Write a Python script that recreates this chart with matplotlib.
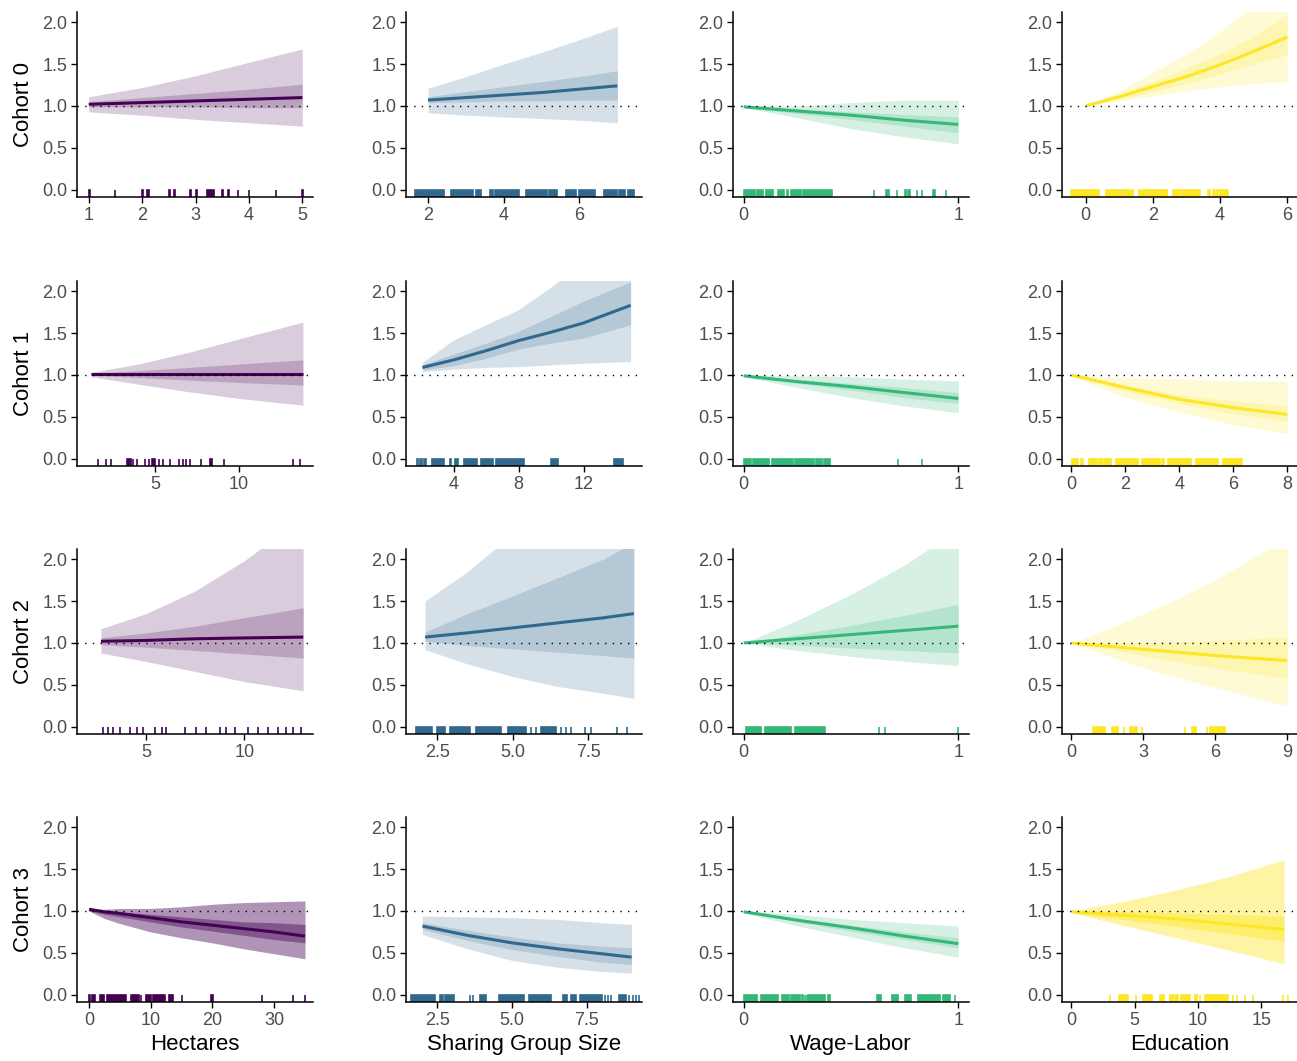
import matplotlib
matplotlib.use("Agg")
import matplotlib.pyplot as plt

plt.rcParams['font.family'] = ['Liberation Sans', 'DejaVu Sans']

cohorts = ["Cohort 0", "Cohort 1", "Cohort 2", "Cohort 3"]
predictors = ["Hectares", "Sharing Group Size", "Wage-Labor", "Education"]
colors = ["#440154", "#31688E", "#35B779", "#FDE725"]

# ---- Hectares ----
x_h0 = [1, 2, 3, 4, 5]
med_h0 = [1.02, 1.04, 1.06, 1.08, 1.10]
lo95_h0 = [0.93, 0.89, 0.84, 0.80, 0.76]
hi95_h0 = [1.11, 1.22, 1.36, 1.52, 1.68]
lo50_h0 = [0.99, 0.99, 0.99, 0.98, 0.98]
hi50_h0 = [1.05, 1.10, 1.15, 1.20, 1.26]
rug_h0 = [(1.0, 1.02), (1.5, 1.5), (2.0, 2.02), (2.1, 2.12), (2.5, 2.52), (2.6, 2.62),
          (2.9, 2.92), (3.0, 3.02), (3.22, 3.35), (3.5, 3.52), (3.6, 3.62), (3.8, 3.8),
          (4.0, 4.0), (4.5, 4.5), (5.0, 5.02)]

x_h1 = [1.2, 4, 7, 10, 13.8]
med_h1 = [1.01, 1.01, 1.01, 1.01, 1.01]
lo95_h1 = [0.98, 0.89, 0.80, 0.72, 0.64]
hi95_h1 = [1.03, 1.13, 1.27, 1.43, 1.63]
lo50_h1 = [1.00, 0.97, 0.94, 0.91, 0.88]
hi50_h1 = [1.02, 1.05, 1.09, 1.13, 1.18]
rug_h1 = [(1.6, 1.6), (2.1, 2.1), (2.4, 2.4), (3.33, 3.55), (3.7, 3.7), (3.95, 3.95),
          (4.4, 4.4), (4.65, 4.65), (4.8, 5.0), (5.25, 5.25), (5.45, 5.45), (5.9, 5.9),
          (6.4, 6.4), (6.65, 6.65), (6.85, 6.85), (7.1, 7.1), (7.75, 7.75), (8.25, 8.4),
          (9.1, 9.1), (13.2, 13.2), (13.6, 13.6)]

x_h2 = [2.7, 5, 7.5, 10, 13]
med_h2 = [1.02, 1.03, 1.05, 1.06, 1.07]
lo95_h2 = [0.88, 0.78, 0.66, 0.54, 0.43]
hi95_h2 = [1.17, 1.35, 1.62, 1.98, 2.5]
lo50_h2 = [0.98, 0.95, 0.91, 0.87, 0.82]
hi50_h2 = [1.06, 1.12, 1.20, 1.30, 1.42]
rug_h2 = [(2.8, 2.8), (3.06, 3.06), (3.3, 3.3), (3.67, 3.67), (4.18, 4.18), (4.54, 4.54),
          (4.85, 4.85), (5.46, 5.46), (5.82, 5.82), (6.02, 6.02), (6.99, 6.99), (7.55, 7.55),
          (8.06, 8.06), (8.78, 8.78), (9.08, 9.08), (9.54, 9.54), (10.2, 10.2), (10.7, 10.7),
          (11.2, 11.2), (11.7, 11.7), (12.1, 12.1), (12.5, 12.5), (12.9, 12.9)]

x_h3 = [0, 2.5, 5, 10, 15, 20, 25, 30, 35]
med_h3 = [1.02, 0.99, 0.97, 0.92, 0.87, 0.83, 0.79, 0.75, 0.70]
lo95_h3 = [1.00, 0.91, 0.85, 0.75, 0.68, 0.62, 0.55, 0.49, 0.43]
hi95_h3 = [1.02, 1.02, 1.03, 1.03, 1.05, 1.08, 1.10, 1.11, 1.12]
lo50_h3 = [1.00, 0.96, 0.93, 0.87, 0.81, 0.76, 0.71, 0.66, 0.62]
hi50_h3 = [1.02, 1.00, 0.99, 0.96, 0.93, 0.90, 0.87, 0.86, 0.84]
rug_h3 = [(0.0, 0.2), (0.5, 0.9), (1.8, 2.5), (2.9, 3.7), (3.9, 6.05), (6.75, 8.1),
          (8.5, 8.5), (9.3, 10.1), (10.4, 12.3), (13.0, 13.6), (15.0, 15.0), (19.8, 20.1),
          (28.0, 28.0), (33.0, 33.0), (35.0, 35.0)]

# ---- Sharing group size ----
x_s0 = [2, 3, 4, 5, 6, 7]
med_s0 = [1.07, 1.10, 1.13, 1.16, 1.20, 1.24]
lo95_s0 = [0.92, 0.89, 0.87, 0.85, 0.83, 0.80]
hi95_s0 = [1.21, 1.35, 1.50, 1.64, 1.79, 1.95]
lo50_s0 = [1.04, 1.05, 1.06, 1.06, 1.07, 1.07]
hi50_s0 = [1.11, 1.17, 1.23, 1.29, 1.35, 1.42]
rug_s0 = [(1.65, 2.42), (2.62, 3.2), (3.27, 3.4), (3.65, 3.72), (3.78, 4.4), (4.6, 5.15),
          (5.2, 5.4), (5.65, 5.9), (6.0, 6.4), (6.65, 7.0), (7.05, 7.2), (7.27, 7.45)]

x_s1 = [2.06, 4, 6, 8, 10, 12, 14.9]
med_s1 = [1.09, 1.18, 1.29, 1.41, 1.51, 1.62, 1.83]
lo95_s1 = [1.04, 1.07, 1.09, 1.10, 1.12, 1.14, 1.16]
hi95_s1 = [1.15, 1.42, 1.60, 1.78, 2.05, 2.35, 2.8]
lo50_s1 = [1.06, 1.11, 1.20, 1.31, 1.38, 1.44, 1.60]
hi50_s1 = [1.12, 1.25, 1.38, 1.52, 1.70, 1.88, 2.11]
rug_s1 = [(1.7, 1.82), (1.9, 2.05), (2.15, 2.3), (2.68, 3.4), (3.75, 3.82), (4.05, 4.25),
          (4.6, 5.4), (5.65, 6.4), (6.6, 7.0), (7.1, 7.45), (7.55, 8.35), (9.98, 10.15),
          (10.25, 10.4), (13.9, 14.1), (14.2, 14.4)]

x_s2 = [2.1, 3.5, 5, 6.5, 8, 9]
med_s2 = [1.07, 1.12, 1.18, 1.24, 1.30, 1.35]
lo95_s2 = [0.92, 0.75, 0.60, 0.48, 0.40, 0.34]
hi95_s2 = [1.50, 1.85, 2.3, 2.8, 3.3, 3.6]
lo50_s2 = [1.02, 0.97, 0.93, 0.89, 0.85, 0.82]
hi50_s2 = [1.13, 1.35, 1.56, 1.78, 2.0, 2.2]
rug_s2 = [(1.8, 2.33), (2.5, 2.75), (2.93, 3.6), (3.77, 4.6), (4.83, 5.43), (5.6, 5.6),
          (5.77, 5.77), (5.93, 6.43), (6.6, 6.6), (6.77, 6.77), (6.93, 6.93), (7.37, 7.37),
          (7.6, 7.6), (8.43, 8.43), (8.77, 8.77)]

x_s3 = [2, 3.5, 5, 6.5, 8, 9]
med_s3 = [0.82, 0.71, 0.62, 0.55, 0.49, 0.45]
lo95_s3 = [0.72, 0.55, 0.41, 0.33, 0.28, 0.26]
hi95_s3 = [0.94, 0.93, 0.92, 0.90, 0.86, 0.84]
lo50_s3 = [0.78, 0.65, 0.54, 0.46, 0.39, 0.36]
hi50_s3 = [0.86, 0.77, 0.69, 0.62, 0.58, 0.56]
rug_s3 = [(1.62, 2.41), (2.58, 2.7), (2.76, 3.05), (3.58, 3.58), (3.7, 3.7), (3.94, 4.12),
          (4.56, 5.39), (5.57, 6.3), (6.69, 6.83), (6.97, 7.15), (7.26, 8.0), (8.1, 8.1),
          (8.21, 8.21), (8.31, 8.31), (8.57, 8.83), (8.93, 8.93), (9.04, 9.04), (9.16, 9.16),
          (9.25, 9.25)]

# ---- Wage labor ----
x_w0 = [0, 0.25, 0.5, 0.75, 1]
med_w0 = [0.99, 0.94, 0.89, 0.83, 0.78]
lo95_w0 = [0.98, 0.86, 0.73, 0.63, 0.55]
hi95_w0 = [1.00, 1.00, 1.04, 1.07, 1.07]
lo50_w0 = [0.98, 0.91, 0.84, 0.76, 0.68]
hi50_w0 = [1.00, 0.97, 0.93, 0.90, 0.87]
rug_w0 = [(0.0, 0.054), (0.062, 0.09), (0.105, 0.135), (0.16, 0.19), (0.2, 0.205),
          (0.22, 0.265), (0.275, 0.41), (0.607, 0.607), (0.664, 0.676), (0.713, 0.713),
          (0.75, 0.758), (0.768, 0.775), (0.806, 0.806), (0.83, 0.83), (0.88, 0.89),
          (0.944, 0.944)]

x_w1 = [0, 0.25, 0.5, 0.75, 1]
med_w1 = [0.99, 0.92, 0.86, 0.79, 0.72]
lo95_w1 = [0.98, 0.85, 0.73, 0.63, 0.55]
hi95_w1 = [1.00, 0.99, 0.98, 0.95, 0.93]
lo50_w1 = [0.98, 0.90, 0.82, 0.73, 0.66]
hi50_w1 = [0.99, 0.95, 0.90, 0.85, 0.79]
rug_w1 = [(0.0, 0.02), (0.025, 0.035), (0.042, 0.12), (0.13, 0.228), (0.237, 0.275),
          (0.282, 0.328), (0.337, 0.366), (0.374, 0.401), (0.72, 0.72), (0.831, 0.831)]

x_w2 = [0, 0.25, 0.5, 0.75, 1]
med_w2 = [1.0, 1.05, 1.10, 1.15, 1.20]
lo95_w2 = [1.0, 0.91, 0.84, 0.78, 0.73]
hi95_w2 = [1.0, 1.27, 1.58, 1.93, 2.35]
lo50_w2 = [1.0, 0.97, 0.94, 0.91, 0.88]
hi50_w2 = [1.0, 1.10, 1.21, 1.33, 1.46]
rug_w2 = [(0.01, 0.08), (0.1, 0.22), (0.24, 0.38), (0.63, 0.63), (0.66, 0.66), (0.998, 0.998)]

x_w3 = [0, 0.25, 0.5, 0.75, 1]
med_w3 = [0.99, 0.89, 0.80, 0.70, 0.61]
lo95_w3 = [0.98, 0.82, 0.69, 0.56, 0.45]
hi95_w3 = [1.0, 0.96, 0.90, 0.86, 0.82]
lo50_w3 = [0.99, 0.87, 0.76, 0.66, 0.56]
hi50_w3 = [1.0, 0.91, 0.83, 0.75, 0.68]
rug_w3 = [(0.0, 0.06), (0.08, 0.16), (0.18, 0.21), (0.22, 0.26), (0.27, 0.278), (0.285, 0.285),
          (0.293, 0.293), (0.3, 0.38), (0.394, 0.402), (0.62, 0.64), (0.69, 0.72), (0.75, 0.78),
          (0.81, 0.915), (0.93, 0.96), (0.985, 0.985)]

# ---- Education ----
x_e0 = [0, 1, 2, 3, 4, 5, 6]
med_e0 = [1.0, 1.11, 1.23, 1.35, 1.49, 1.65, 1.82]
lo95_e0 = [1.0, 1.06, 1.12, 1.18, 1.23, 1.27, 1.29]
hi95_e0 = [1.0, 1.18, 1.40, 1.62, 1.88, 2.2, 2.6]
lo50_e0 = [1.0, 1.08, 1.17, 1.27, 1.38, 1.50, 1.61]
hi50_e0 = [1.0, 1.14, 1.29, 1.45, 1.62, 1.83, 2.08]
rug_e0 = [(-0.43, 0.4), (0.6, 0.9), (0.95, 1.0), (1.05, 1.4), (1.6, 2.43), (2.6, 2.8),
          (2.87, 3.4), (3.65, 3.7), (3.78, 3.82), (3.88, 3.93), (4.0, 4.25)]

x_e1 = [0, 2, 4, 6, 8]
med_e1 = [1.0, 0.85, 0.71, 0.61, 0.53]
lo95_e1 = [0.99, 0.73, 0.56, 0.41, 0.30]
hi95_e1 = [1.0, 0.97, 0.95, 0.93, 0.92]
lo50_e1 = [0.99, 0.81, 0.66, 0.54, 0.45]
hi50_e1 = [1.0, 0.88, 0.76, 0.69, 0.63]
rug_e1 = [(0.02, 0.23), (0.36, 0.42), (0.64, 0.95), (1.02, 1.13), (1.2, 1.46), (1.66, 2.48),
          (2.6, 3.3), (3.34, 3.42), (3.58, 4.42), (4.6, 5.42), (5.63, 6.34)]

x_e2 = [0, 2, 4, 6, 9]
med_e2 = [1.0, 0.95, 0.90, 0.85, 0.79]
lo95_e2 = [1.0, 0.80, 0.62, 0.47, 0.25]
hi95_e2 = [1.0, 1.22, 1.47, 1.75, 2.25]
lo50_e2 = [1.0, 0.90, 0.80, 0.70, 0.58]
hi50_e2 = [1.0, 1.0, 1.01, 1.03, 1.07]
rug_e2 = [(0.9, 1.4), (1.7, 1.95), (2.2, 2.2), (2.45, 2.74), (2.95, 2.95), (4.73, 4.73),
          (5.02, 5.19), (5.64, 5.64), (5.77, 6.39)]

x_e3 = [0, 4, 8, 12, 16.8]
med_e3 = [0.99, 0.95, 0.91, 0.85, 0.78]
lo95_e3 = [0.98, 0.83, 0.69, 0.55, 0.37]
hi95_e3 = [1.0, 1.11, 1.24, 1.39, 1.61]
lo50_e3 = [0.98, 0.90, 0.82, 0.74, 0.64]
hi50_e3 = [1.0, 0.99, 0.98, 0.96, 0.94]
rug_e3 = [(3.02, 3.02), (3.73, 4.44), (5.12, 5.12), (5.64, 6.35), (7.0, 7.32), (7.8, 8.0),
          (8.19, 8.45), (8.64, 9.37), (9.76, 9.9), (10.16, 10.16), (10.55, 12.39),
          (12.73, 12.73), (13.04, 13.04), (13.7, 13.7), (14.36, 14.36), (16.72, 16.72),
          (17.1, 17.1)]

# x ticks for each panel (rows = cohorts, cols = predictors)
xticks = [
    [[1, 2, 3, 4, 5], [2, 4, 6], [0, 1], [0, 2, 4, 6]],
    [[5, 10], [4, 8, 12], [0, 1], [0, 2, 4, 6, 8]],
    [[5, 10], [2.5, 5.0, 7.5], [0, 1], [0, 3, 6, 9]],
    [[0, 10, 20, 30], [2.5, 5.0, 7.5], [0, 1], [0, 5, 10, 15]],
]
yticks = [0.0, 0.5, 1.0, 1.5, 2.0]

panels = [
    [(x_h0, med_h0, lo95_h0, hi95_h0, lo50_h0, hi50_h0, rug_h0),
     (x_s0, med_s0, lo95_s0, hi95_s0, lo50_s0, hi50_s0, rug_s0),
     (x_w0, med_w0, lo95_w0, hi95_w0, lo50_w0, hi50_w0, rug_w0),
     (x_e0, med_e0, lo95_e0, hi95_e0, lo50_e0, hi50_e0, rug_e0)],
    [(x_h1, med_h1, lo95_h1, hi95_h1, lo50_h1, hi50_h1, rug_h1),
     (x_s1, med_s1, lo95_s1, hi95_s1, lo50_s1, hi50_s1, rug_s1),
     (x_w1, med_w1, lo95_w1, hi95_w1, lo50_w1, hi50_w1, rug_w1),
     (x_e1, med_e1, lo95_e1, hi95_e1, lo50_e1, hi50_e1, rug_e1)],
    [(x_h2, med_h2, lo95_h2, hi95_h2, lo50_h2, hi50_h2, rug_h2),
     (x_s2, med_s2, lo95_s2, hi95_s2, lo50_s2, hi50_s2, rug_s2),
     (x_w2, med_w2, lo95_w2, hi95_w2, lo50_w2, hi50_w2, rug_w2),
     (x_e2, med_e2, lo95_e2, hi95_e2, lo50_e2, hi50_e2, rug_e2)],
    [(x_h3, med_h3, lo95_h3, hi95_h3, lo50_h3, hi50_h3, rug_h3),
     (x_s3, med_s3, lo95_s3, hi95_s3, lo50_s3, hi50_s3, rug_s3),
     (x_w3, med_w3, lo95_w3, hi95_w3, lo50_w3, hi50_w3, rug_w3),
     (x_e3, med_e3, lo95_e3, hi95_e3, lo50_e3, hi50_e3, rug_e3)],
]

# layout (pixels) and axis ranges
W, H = 1297, 1061
col_left = [77, 406, 733, 1062]
row_top = [12, 281, 549, 817]
ax_w, ax_h = 236, 185
xlims = [
    [(0.78, 5.2), (1.42, 7.65), (-0.05, 1.05), (-0.7, 6.32)],
    [(0.36, 14.4), (1.05, 15.6), (-0.05, 1.05), (-0.35, 8.4)],
    [(1.48, 13.5), (1.47, 9.27), (-0.05, 1.05), (-0.38, 9.45)],
    [(-1.95, 36.3), (1.45, 9.35), (-0.05, 1.05), (-0.75, 17.9)],
]
ylim = (-0.085, 2.12)
ribbon_alpha = [[0.2] * 4, [0.2] * 4, [0.2] * 4, [0.42, 0.2, 0.2, 0.42]]

fig = plt.figure(figsize=(W / 100, H / 100), dpi=100)

for r in range(4):
    for c in range(4):
        x, med, lo95, hi95, lo50, hi50, rug = panels[r][c]
        col = colors[c]
        ax = fig.add_axes([col_left[c] / W, 1 - (row_top[r] + ax_h) / H, ax_w / W, ax_h / H])
        a = ribbon_alpha[r][c]
        ax.fill_between(x, lo95, hi95, color=col, alpha=a, lw=0, zorder=1)
        ax.fill_between(x, lo50, hi50, color=col, alpha=a, lw=0, zorder=1.5)
        ax.plot(x, med, color=col, lw=2.2, zorder=2, solid_capstyle='butt')
        ax.axhline(1.0, color='black', lw=1.0, ls=(0, (1, 4.5)), zorder=3)
        for a0, a1 in rug:
            ax.axvspan(a0, a1, ymin=0, ymax=0.04, facecolor=col, edgecolor=col, lw=1.2, zorder=2)

        ax.set_xlim(*xlims[r][c])
        ax.set_ylim(*ylim)
        ax.set_yticks(yticks)
        ax.set_yticklabels([f"{v:.1f}" for v in yticks])
        xt = xticks[r][c]
        ax.set_xticks(xt)
        if any(v != int(v) for v in xt):
            ax.set_xticklabels([f"{v:.1f}" for v in xt])
        else:
            ax.set_xticklabels([str(int(v)) for v in xt])

        for side in ('top', 'right'):
            ax.spines[side].set_visible(False)
        for side in ('left', 'bottom'):
            ax.spines[side].set_linewidth(1.1)
            ax.spines[side].set_color('black')
        ax.tick_params(length=4, width=1.0, color='black', labelsize=13,
                       labelcolor='#4D4D4D', pad=3)

        if c == 0:
            ax.set_ylabel(cohorts[r], fontsize=16, labelpad=6)
        if r == 3:
            ax.set_xlabel(predictors[c], fontsize=16, labelpad=4)

fig.savefig("out.png", dpi=100)
